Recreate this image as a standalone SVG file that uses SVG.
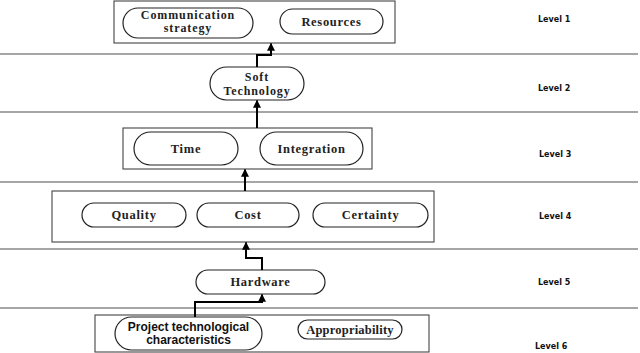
<svg xmlns="http://www.w3.org/2000/svg" width="640" height="353" viewBox="0 0 640 353">
<defs>
<marker id="ah" viewBox="0 0 10 10" refX="9" refY="5" markerWidth="4" markerHeight="4" orient="auto" markerUnits="strokeWidth">
<path d="M0,0 L10,5 L0,10 z" fill="#000"/>
</marker>
<style>
.sep{stroke:#888;stroke-width:1.6;fill:none}
.box{fill:#fff;stroke:#444;stroke-width:1.1}
.pill{fill:#fff;stroke:#222;stroke-width:1.2}
.t{font-family:"Liberation Serif","Times New Roman",serif;font-weight:bold;font-size:12.5px;letter-spacing:0.7px;fill:#222;text-anchor:middle}
.t2{font-size:12px;letter-spacing:0.9px}
.s{font-family:"Liberation Sans",Arial,sans-serif;font-weight:bold;font-size:12px;fill:#111;text-anchor:middle}
.lv{font-family:"DejaVu Sans",Verdana,sans-serif;font-weight:bold;font-size:8px;fill:#111}
.c{fill:none;stroke:#000;stroke-width:2;marker-end:url(#ah)}
</style>
</defs>
<rect width="640" height="353" fill="#fff"/>
<g id="separators">
<line class="sep" x1="0" y1="54" x2="638" y2="54"/>
<line class="sep" x1="0" y1="112" x2="638" y2="112"/>
<line class="sep" x1="0" y1="182" x2="638" y2="182"/>
<line class="sep" x1="0" y1="249" x2="638" y2="249"/>
<line class="sep" x1="0" y1="308" x2="638" y2="308"/>
</g>
<g id="level-labels">
<text class="lv" x="538" y="22">Level 1</text>
<text class="lv" x="538" y="91">Level 2</text>
<text class="lv" x="539" y="157">Level 3</text>
<text class="lv" x="539" y="219">Level 4</text>
<text class="lv" x="538" y="285">Level 5</text>
<text class="lv" x="535" y="349">Level 6</text>
</g>
<g id="level1">
<rect class="box" x="114" y="1" width="281" height="42"/>
<g id="communication-strategy">
<rect class="pill" x="123" y="8" width="130" height="30" rx="15"/>
<text class="t t2" x="188" y="18.5">Communication<tspan x="188" dy="13.5">strategy</tspan></text>
</g>
<g id="resources">
<rect class="pill" x="280" y="9" width="103" height="25" rx="12.5"/>
<text class="t" x="331.5" y="25.5">Resources</text>
</g>
</g>
<g id="soft-technology">
<rect class="pill" x="210" y="67" width="94" height="33" rx="16.5"/>
<text class="t t2" x="257" y="81">Soft<tspan x="257" dy="13.5">Technology</tspan></text>
</g>
<g id="level3">
<rect class="box" x="123" y="128" width="249" height="41"/>
<g id="time">
<rect class="pill" x="134" y="132" width="104" height="33" rx="16.5"/>
<text class="t" x="186" y="152.5">Time</text>
</g>
<g id="integration">
<rect class="pill" x="260" y="132" width="103" height="33" rx="16.5"/>
<text class="t" x="311.5" y="152.5">Integration</text>
</g>
</g>
<g id="level4">
<rect class="box" x="52" y="191" width="382" height="51"/>
<g id="quality">
<rect class="pill" x="82" y="203" width="104" height="24" rx="12"/>
<text class="t" x="134" y="219">Quality</text>
</g>
<g id="cost">
<rect class="pill" x="197" y="203" width="102" height="24" rx="12"/>
<text class="t" x="248" y="219">Cost</text>
</g>
<g id="certainty">
<rect class="pill" x="313" y="203" width="115" height="24" rx="12"/>
<text class="t" x="370.5" y="219">Certainty</text>
</g>
</g>
<g id="hardware">
<rect class="pill" x="196" y="270" width="129" height="24" rx="12"/>
<text class="t" x="260.5" y="286">Hardware</text>
</g>
<g id="level6">
<rect class="box" x="95" y="315" width="334" height="37"/>
<g id="project-technological-characteristics">
<rect class="pill" x="115" y="317" width="147" height="33" rx="16.5"/>
<text class="s" x="188.5" y="331">Project technological<tspan x="188.5" dy="13">characteristics</tspan></text>
</g>
<g id="appropriability">
<rect class="pill" x="298" y="320" width="104" height="19" rx="9.5"/>
<text class="t" x="350" y="334" style="letter-spacing:0.2px">Appropriability</text>
</g>
</g>
<g id="connectors">
<path class="c" d="M257,67 V55 H271 V43.5"/>
<path class="c" d="M257,128 V100.5"/>
<path class="c" d="M245,191 V169.5"/>
<path class="c" d="M262,270 V258 H246 V242.5"/>
<path class="c" d="M195,317 V302 H262 V294.5"/>
</g>
</svg>
